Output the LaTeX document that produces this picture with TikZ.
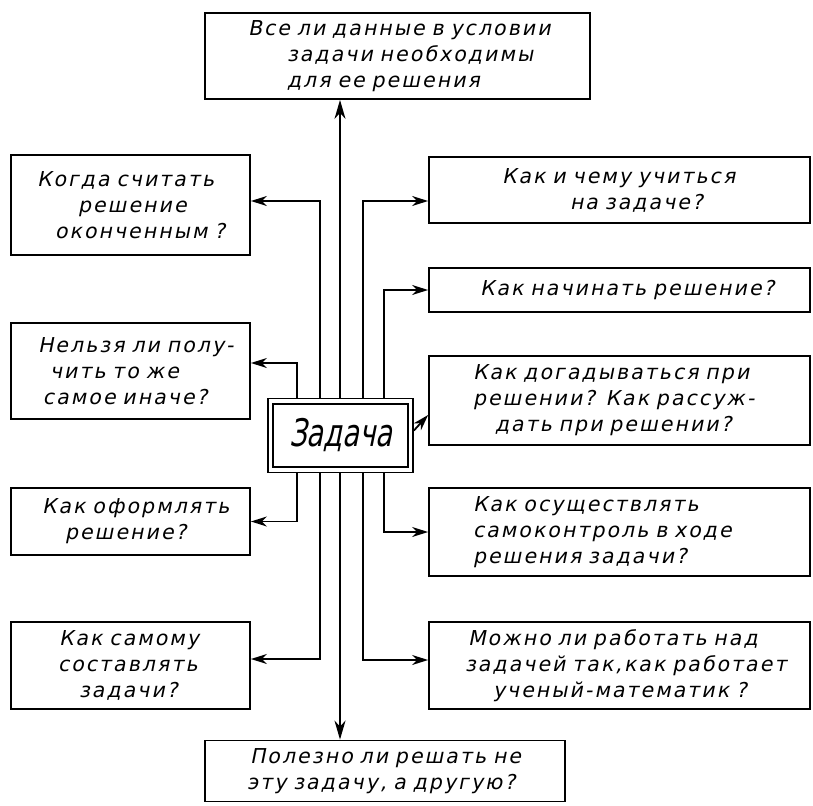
\documentclass[tikz,border=0pt]{standalone}
\usepackage{fontspec}
\setmainfont{DejaVu Sans}
\newfontfamily\hand[FakeSlant=0.2,LetterSpace=10,WordSpace=1.6]{DejaVu Sans}
\newfontfamily\zfont[FakeSlant=0.2,FakeStretch=0.72]{DejaVu Sans}
\usetikzlibrary{arrows.meta}
\tikzset{
  box/.style={draw, line width=1.8pt, inner xsep=0pt, inner ysep=0pt, align=left,
    font=\hand\fontsize{20.5}{26}\selectfont},
  link/.style={line width=1.8pt, -{Stealth[length=16pt,width=10pt,inset=5pt]}},
  biglink/.style={line width=2pt, -{Stealth[length=19pt,width=11pt,inset=6pt]}},
}
\begin{document}
\begin{tikzpicture}[x=1pt,y=-1pt]
\useasboundingbox (0,0) rectangle (813,805);
% top and bottom
\node[box, text width=385pt, minimum height=86pt] (top) at (397.5,56)
  {\hspace*{43pt}Все ли данные в условии\\\hspace*{82pt}задачи необходимы\\\hspace*{82pt}для ее решения};
\node[box, text width=360pt, minimum height=61pt] (bot) at (385,771)
  {\hspace*{45pt}Полезно ли решать не\\\hspace*{42pt}эту задачу, а другую?};
% left
\node[box, text width=239pt, minimum height=100pt] (l1) at (130.5,205)
  {\hspace*{26pt}Когда считать\\\hspace*{67pt}решение\\\hspace*{44pt}оконченным ?};
\node[box, text width=239pt, minimum height=96pt] (l2) at (130.5,371)
  {\hspace*{27pt}Нельзя ли полу-\\\hspace*{39pt}чить то же\\\hspace*{32pt}самое иначе?};
\node[box, text width=239pt, minimum height=67pt] (l3) at (130.5,521.5)
  {\hspace*{31pt}Как оформлять\\\hspace*{54pt}решение?};
\node[box, text width=239pt, minimum height=87pt] (l4) at (130.5,665.5)
  {\hspace*{48pt}Как самому\\\hspace*{47pt}составлять\\\hspace*{68pt}задачи?};
% right
\node[box, text width=381pt, minimum height=66pt] (r1) at (619.5,190)
  {\hspace*{73pt}Как и чему учиться\\\hspace*{141pt}на задаче?};
\node[box, text width=381pt, minimum height=44pt] (r2) at (619.5,290)
  {\hspace*{51pt}Как начинать решение?};
\node[box, text width=381pt, minimum height=89pt] (r3) at (619.5,400.5)
  {\hspace*{44pt}Как догадываться при\\\hspace*{44pt}решении? Как рассуж-\\\hspace*{66pt}дать при решении?};
\node[box, text width=381pt, minimum height=88pt] (r4) at (619.5,532)
  {\hspace*{44pt}Как осуществлять\\\hspace*{44pt}самоконтроль в ходе\\\hspace*{44pt}решения задачи?};
\node[box, text width=381pt, minimum height=87pt] (r5) at (619.5,665.5)
  {\hspace*{39pt}Можно ли работать над\\\hspace*{36pt}задачей так,как работает\\\hspace*{64pt}ученый-математик ?};
% centre
\node[draw, line width=1.8pt, minimum width=145pt, minimum height=74pt, inner sep=0pt] (zo) at (340.5,435.5) {};
\node[draw, line width=2.4pt, minimum width=135pt, minimum height=63pt, inner sep=0pt,
  font=\zfont\fontsize{38}{40}\selectfont] (zad) at (340.5,435.5) {Задача};
% line positions
\coordinate (c1) at (297,0);
\coordinate (c2) at (320,0);
\coordinate (c3) at (340,0);
\coordinate (c4) at (363,0);
\coordinate (c5) at (384,0);
% connectors
\draw[biglink] (zo.north -| c3) -- (c3 |- top.south);
\draw[biglink] (zo.south -| c3) -- (c3 |- bot.north);
\draw[link] (zo.north -| c1) |- ([yshift=8pt]l2.east);
\draw[link] (zo.south -| c1) |- (l3.east);
\draw[link] (zo.north -| c2) |- ([yshift=4pt]l1.east);
\draw[link] (zo.south -| c2) |- ([yshift=6.5pt]l4.east);
\draw[link] (zo.north -| c4) |- ([yshift=-11pt]r1.west);
\draw[link] (zo.south -| c4) |- ([yshift=5.5pt]r5.west);
\draw[link] (zo.north -| c5) |- (r2.west);
\draw[link] (zo.south -| c5) |- (r4.west);
\draw[link] ([yshift=5pt]zo.east) -- ([yshift=-14.5pt]r3.west);
\end{tikzpicture}
\end{document}
